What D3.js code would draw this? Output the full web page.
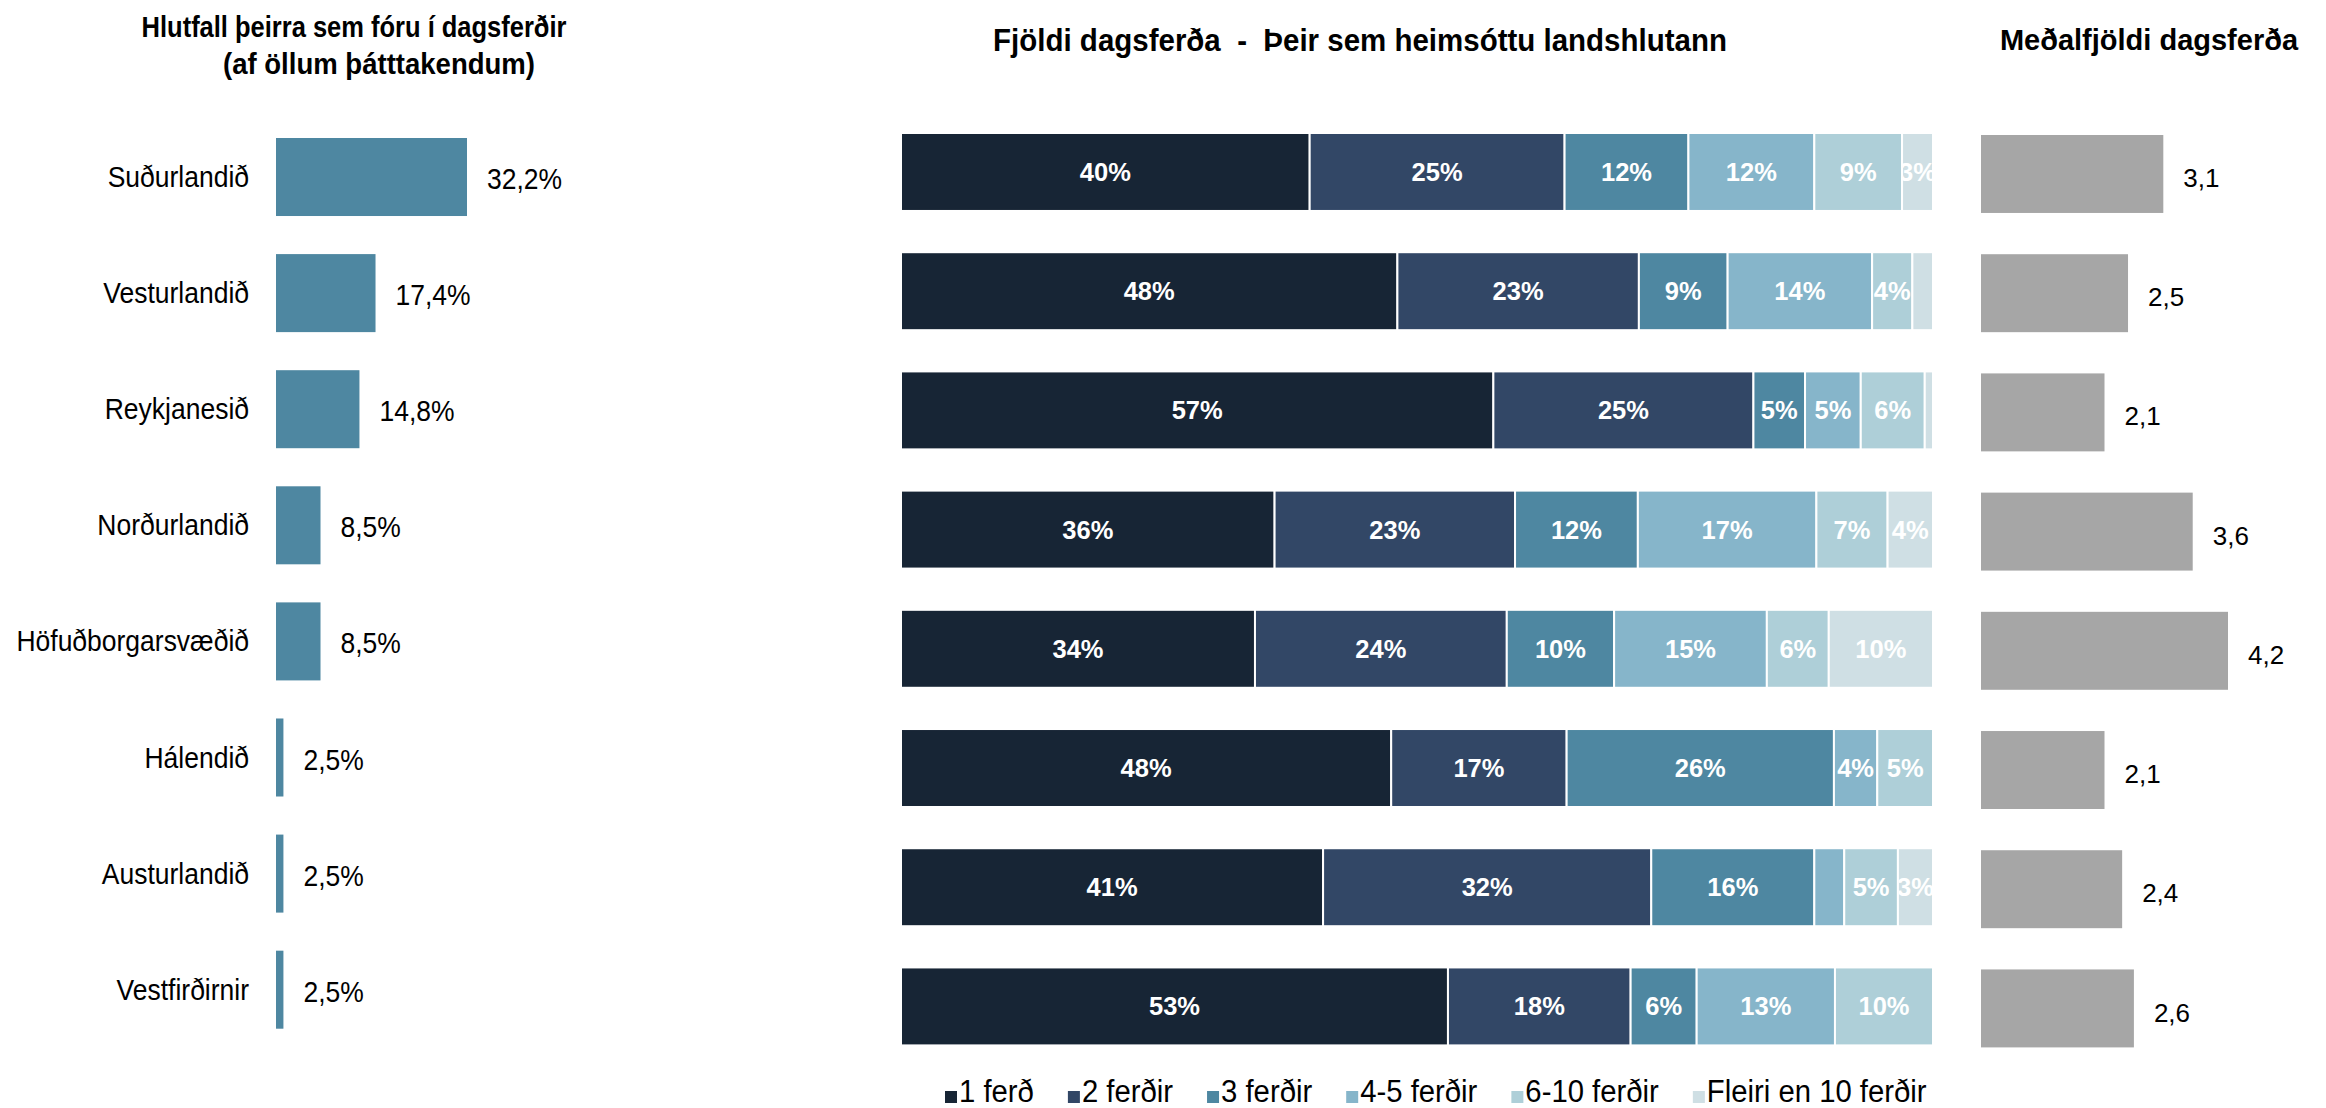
<!DOCTYPE html>
<html><head><meta charset="utf-8">
<script src="https://cdn.jsdelivr.net/npm/d3@7"></script>
<style>html,body{margin:0;padding:0;background:#fff;}svg{display:block;}</style>
</head><body>
<svg id="chart" width="2326" height="1108"></svg>
<script>
// ---- data ----
const categories = ["Suðurlandið","Vesturlandið","Reykjanesið","Norðurlandið","Höfuðborgarsvæðið","Hálendið","Austurlandið","Vestfirðirnir"];
const shareValues = [32.2, 17.4, 14.8, 8.5, 8.5, 2.5, 2.5, 2.5];
const seriesNames = ["1 ferð","2 ferðir","3 ferðir","4-5 ferðir","6-10 ferðir","Fleiri en 10 ferðir"];
const trips1    = [39.6, 48.1, 57.4, 36.2, 34.3, 47.5, 40.9, 53.0];
const trips2    = [24.7, 23.4, 25.2, 23.3, 24.4, 17.0, 31.8, 17.7];
const trips3    = [12.0,  8.6,  5.0, 11.9, 10.4, 25.9, 15.8,  6.4];
const trips45   = [12.2, 14.0,  5.4, 17.3, 14.8,  4.2,  2.9, 13.4];
const trips610  = [ 8.5,  3.9,  6.2,  6.9,  6.0,  5.4,  5.2,  9.5];
const tripsMore = [ 3.0,  2.0,  0.8,  4.4, 10.1,  0.0,  3.4,  0.0];
const avgTrips  = [3.1, 2.5, 2.1, 3.6, 4.2, 2.1, 2.4, 2.6];
const titleLeft = ["Hlutfall þeirra sem fóru í dagsferðir", "(af öllum þátttakendum)"];
const titleMid = "Fjöldi dagsferða  -  Þeir sem heimsóttu landshlutann";
const titleRight = "Meðalfjöldi dagsferða";

// ---- styles ----
const seriesColors = ["#172535","#324766","#4e87a1","#86b5ca","#aecfd8","#cfdfe4"];
const leftColor = "#4e87a1", rightColor = "#a6a6a6";
const SANS = "'Liberation Sans',Arial,sans-serif";

const svg = d3.select("#chart");
const fmtComma = v => d3.format(".1f")(v).replace(".", ",");
const cond = (x, y, sx) => `translate(${x},${y}) scale(${sx},1)`;

// ---- left panel ----
const yL = d3.scaleBand().domain(categories).range([138, 1028.7]).paddingInner(0.328).paddingOuter(0);
const xL = d3.scaleLinear().domain([1.3, 32.2]).range([276, 467]);
const gL = svg.append("g");
gL.selectAll("rect").data(categories).join("rect")
  .attr("x", xL(1.3)).attr("y", d => yL(d))
  .attr("width", (d,i) => xL(shareValues[i]) - xL(1.3))
  .attr("height", yL.bandwidth()).attr("fill", leftColor);
gL.selectAll("text.cat").data(categories).join("text").attr("class","cat")
  .attr("transform", d => cond(249, yL(d) + yL.bandwidth()/2, 0.92))
  .attr("dy", "0.35em").attr("text-anchor","end")
  .style("font-family", SANS).style("font-size","28.8px").attr("fill","#000").text(d => d);
gL.selectAll("text.val").data(categories).join("text").attr("class","val")
  .attr("transform", (d,i) => cond(xL(shareValues[i]) + 20, yL(d) + yL.bandwidth()/2 + 2, 0.92))
  .attr("dy", "0.35em")
  .style("font-family", SANS).style("font-size","28.8px").attr("fill","#000")
  .text((d,i) => fmtComma(shareValues[i]) + "%");
const titleLeftX = [354, 379], titleLeftSx = [0.87, 0.94];
titleLeft.forEach((t, i) => {
  svg.append("text").attr("transform", cond(titleLeftX[i], 27 + i*37, titleLeftSx[i])).attr("dy","0.35em").attr("text-anchor","middle")
    .style("font-family", SANS).style("font-weight","bold").style("font-size","29.3px").text(t);
});

// ---- middle panel ----
const seriesArrays = [trips1, trips2, trips3, trips45, trips610, tripsMore];
const rows = categories.map((c,i) => {
  const o = {cat: c};
  seriesNames.forEach((s,k) => o[s] = seriesArrays[k][i]);
  return o;
});
const stacked = d3.stack().keys(seriesNames)(rows);
const yM = d3.scaleBand().domain(categories).range([133, 1045.4]).paddingInner(0.346).paddingOuter(0);
const xM = d3.scaleLinear().domain([0, 100]).range([901, 1933]);
const gM = svg.append("g");
const defs = svg.append("defs");
stacked.forEach((layer, k) => {
  layer.forEach((seg, i) => {
    const v = seg[1] - seg[0];
    if (v <= 0) return;
    const x0 = xM(seg[0]), x1 = xM(seg[1]), y = yM(categories[i]), h = yM.bandwidth();
    gM.append("rect").attr("x", x0).attr("y", y).attr("width", x1 - x0).attr("height", h)
      .attr("fill", seriesColors[k]).attr("stroke", "#fff").attr("stroke-width", 2);
    if (v >= 3) {
      const id = "clip" + k + "_" + i;
      defs.append("clipPath").attr("id", id).append("rect")
        .attr("x", x0 + 1).attr("y", y).attr("width", x1 - x0 - 2).attr("height", h);
      gM.append("text").attr("clip-path", `url(#${id})`)
        .attr("x", (x0 + x1)/2).attr("y", y + h/2).attr("dy","0.35em").attr("text-anchor","middle")
        .style("font-family", SANS).style("font-weight","bold").style("font-size","25.5px")
        .attr("fill","#fff").text(Math.round(v) + "%");
    }
  });
});
svg.append("text").attr("transform", cond(1360, 40, 0.93)).attr("dy","0.35em").attr("text-anchor","middle")
  .style("white-space","pre")
  .style("font-family", SANS).style("font-weight","bold").style("font-size","31.7px").text(titleMid);

// legend
const leg = svg.append("g");
let lx = 945;
seriesNames.forEach((s,k) => {
  leg.append("rect").attr("x", lx).attr("y", 1091).attr("width", 12).attr("height", 12).attr("fill", seriesColors[k]);
  const t = leg.append("text").attr("transform", cond(lx + 14, 1102, 0.93))
    .style("font-family", SANS).style("font-size","31.5px").attr("fill","#000").text(s);
  lx += 14 + t.node().getComputedTextLength() * 0.93 + 34;
});

// ---- right panel ----
const yR = d3.scaleBand().domain(categories).range([135, 1047.4]).paddingInner(0.346).paddingOuter(0);
const xR = d3.scaleLinear().domain([0, 4.2]).range([1981, 2228]);
const gR = svg.append("g");
gR.selectAll("rect").data(categories).join("rect")
  .attr("x", xR(0)).attr("y", d => yR(d))
  .attr("width", (d,i) => xR(avgTrips[i]) - xR(0))
  .attr("height", yR.bandwidth()).attr("fill", rightColor);
gR.selectAll("text").data(categories).join("text")
  .attr("x", (d,i) => xR(avgTrips[i]) + 20).attr("y", d => yR(d) + yR.bandwidth()/2 + 4)
  .attr("dy","0.35em").style("font-family", SANS).style("font-size","26px").attr("fill","#000")
  .text((d,i) => fmtComma(avgTrips[i]));
svg.append("text").attr("x", 2149).attr("y", 40).attr("dy","0.35em").attr("text-anchor","middle")
  .style("font-family", SANS).style("font-weight","bold").style("font-size","29px").text(titleRight);
</script>
</body></html>
